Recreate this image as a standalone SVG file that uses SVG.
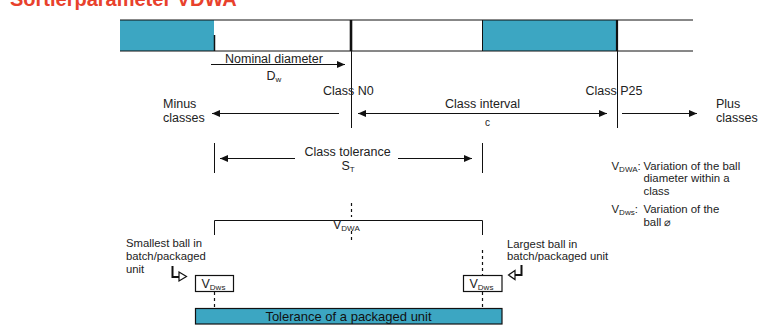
<svg xmlns="http://www.w3.org/2000/svg" width="766" height="333" viewBox="0 0 766 333">
<defs>
<marker id="ah" markerWidth="9" markerHeight="7" refX="8" refY="3.5" orient="auto" markerUnits="userSpaceOnUse"><path d="M0,0 L8,3.5 L0,7 z" fill="#111"/></marker>
<marker id="ahs" markerWidth="9" markerHeight="7" refX="8" refY="3.5" orient="auto-start-reverse" markerUnits="userSpaceOnUse"><path d="M0,0 L8,3.5 L0,7 z" fill="#111"/></marker>
</defs>
<style>
text{font-family:"Liberation Sans",Arial,sans-serif;fill:#222;font-size:12.5px}
.sm{font-size:11.3px}
.lg{font-size:11.4px}
.sub{font-size:8px}
.ln{stroke:#111;stroke-width:1;fill:none}
.dash{stroke:#111;stroke-width:1.2;stroke-dasharray:3 3;fill:none}
.teal{fill:#3ca6c2}
.box{fill:#fff;stroke:#111;stroke-width:1.2}
.hol{fill:#fff;stroke:#111;stroke-width:1.2}
</style>
<rect width="766" height="333" fill="#fff"/>
<text x="10" y="6" style="font-size:20px;font-weight:bold;fill:#e8412c">Sortierparameter VDWA</text>

<g id="scale-bar">
<rect class="teal" x="120" y="20" width="94" height="31"/>
<rect class="teal" x="482" y="20" width="135" height="31"/>
<line class="ln" x1="120" y1="20" x2="693" y2="20"/>
<line class="ln" x1="120" y1="51" x2="693" y2="51"/>
<line class="ln" x1="214.5" y1="35" x2="214.5" y2="51" style="stroke-width:1.5"/>
<line class="ln" x1="482.5" y1="20" x2="482.5" y2="51"/>
<line class="ln" x1="351" y1="20" x2="351" y2="51" style="stroke-width:2.6"/>
<line class="ln" x1="617" y1="20" x2="617" y2="51" style="stroke-width:2.2"/>
</g>

<g id="connectors">
<line class="ln" x1="351.5" y1="51" x2="351.5" y2="128"/>
<line class="ln" x1="617.5" y1="51" x2="617.5" y2="128"/>
<line class="ln" x1="211" y1="64.5" x2="345" y2="64.5" marker-end="url(#ah)"/>
<line class="ln" x1="339" y1="113.5" x2="212" y2="113.5" marker-end="url(#ah)"/>
<line class="ln" x1="358" y1="113.5" x2="607" y2="113.5" marker-start="url(#ahs)" marker-end="url(#ah)"/>
<line class="ln" x1="622" y1="113.5" x2="697" y2="113.5" marker-end="url(#ah)"/>
<line class="ln" x1="214.5" y1="143" x2="214.5" y2="173"/>
<line class="ln" x1="482.5" y1="143" x2="482.5" y2="173"/>
<line class="ln" x1="295" y1="158.5" x2="220" y2="158.5" marker-end="url(#ah)"/>
<line class="ln" x1="398" y1="158.5" x2="472" y2="158.5" marker-end="url(#ah)"/>
<path class="ln" d="M214.5,235 V220.5 H482.5 V235"/>
<line class="dash" x1="351.5" y1="203" x2="351.5" y2="217"/>
<line class="dash" x1="351.5" y1="231" x2="351.5" y2="243"/>
<line class="dash" x1="482.5" y1="250" x2="482.5" y2="276"/>
<line class="dash" x1="482.5" y1="292" x2="482.5" y2="308"/>
<line class="dash" x1="214.5" y1="292" x2="214.5" y2="308"/>
<path d="M172.5,266 V277 H179" stroke="#111" stroke-width="2" fill="none"/>
<path class="hol" d="M179,272 L186.5,276.5 L179,281 z"/>
<path d="M521.5,265 V275 H515" stroke="#111" stroke-width="2" fill="none"/>
<path class="hol" d="M515,270.5 L508.5,275 L515,279.5 z"/>
</g>

<g id="labels">
<text x="225" y="62.5">Nominal diameter</text>
<text x="266.5" y="80">D<tspan class="sub" dy="2">w</tspan></text>
<text x="323" y="95">Class N0</text>
<text x="163" y="108">Minus</text>
<text x="163" y="122">classes</text>
<text x="445" y="108">Class interval</text>
<text x="485" y="126" style="font-size:10px">c</text>
<text x="585.5" y="95">Class P25</text>
<text x="716" y="108">Plus</text>
<text x="716" y="122">classes</text>
<text x="304.5" y="156">Class tolerance</text>
<text x="341.5" y="170">S<tspan class="sub" dy="2">T</tspan></text>
<text x="333" y="229">V<tspan class="sub" dy="2">DWA</tspan></text>
</g>

<g id="legend">
<text class="lg" x="611.5" y="169.5">V<tspan class="sub" dy="2">DWA</tspan><tspan dy="-2">:</tspan></text>
<text class="lg" x="643.5" y="169.5">Variation of the ball</text>
<text class="lg" x="643.5" y="182">diameter within a</text>
<text class="lg" x="643.5" y="194.5">class</text>
<text class="lg" x="611.5" y="213">V<tspan class="sub" dy="2">Dws</tspan><tspan dy="-2">:</tspan></text>
<text class="lg" x="643.5" y="213">Variation of the</text>
<text class="lg" x="643.5" y="226">ball ⌀</text>
</g>

<g id="smallest-ball">
<text class="sm" x="126" y="247">Smallest ball in</text>
<text class="sm" x="126" y="259.5">batch/packaged</text>
<text class="sm" x="126" y="272.5">unit</text>
</g>
<g id="largest-ball">
<text class="sm" x="507" y="248">Largest ball in</text>
<text class="sm" x="507" y="260">batch/packaged unit</text>
</g>

<g id="box-left">
<rect class="box" x="195.5" y="275.5" width="38" height="16"/>
<text x="201.5" y="288">V<tspan class="sub" dy="1.5">Dws</tspan></text>
</g>
<g id="box-right">
<rect class="box" x="463.5" y="275.5" width="38.5" height="16"/>
<text x="469.5" y="288">V<tspan class="sub" dy="1.5">Dws</tspan></text>
</g>

<g id="tolerance-bar">
<rect class="teal" x="195.5" y="308.5" width="306.5" height="15.5" stroke="#111" stroke-width="1.2"/>
<text x="348.5" y="320.5" text-anchor="middle" style="font-size:13px;fill:#111">Tolerance of a packaged unit</text>
</g>
</svg>
